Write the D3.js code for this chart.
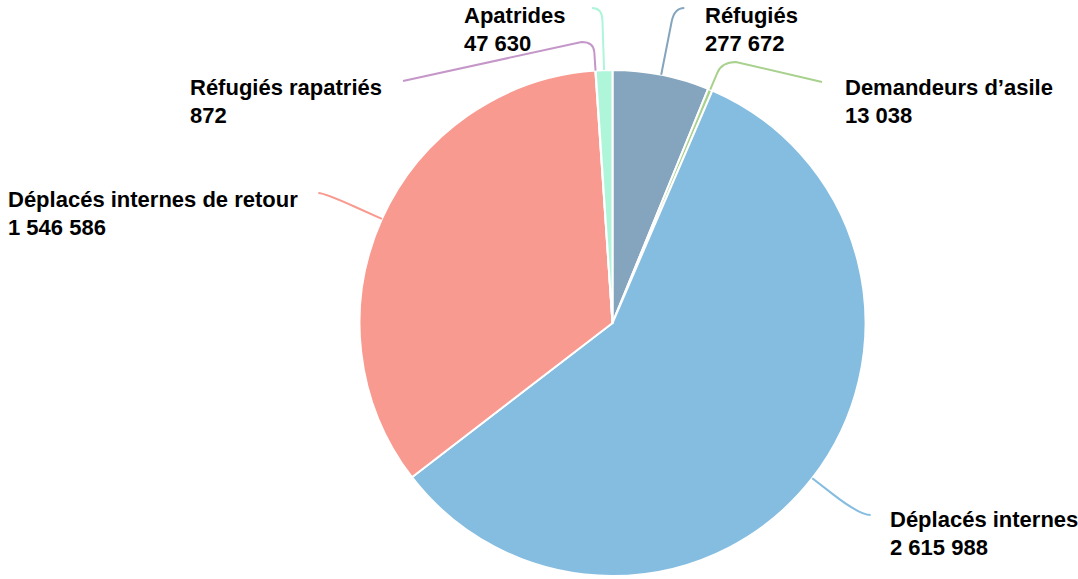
<!DOCTYPE html>
<html><head><meta charset="utf-8">
<script src="https://cdn.jsdelivr.net/npm/d3@7"></script>
<style>html,body{margin:0;padding:0;background:#fff;}svg{display:block;}</style>
</head><body>
<svg id="chart" width="1078" height="579"></svg>
<script>
const categories = ["Réfugiés","Demandeurs d’asile","Déplacés internes","Déplacés internes de retour","Réfugiés rapatriés","Apatrides"];
const values = [277672, 13038, 2615988, 1546586, 872, 47630];
const colors = ["#84a5bd","#a9d18e","#85bde0","#f99a90","#c597c9","#aef5da"];

// label layout (presentation only)
const labelLayout = [
  {lx:705, ly:23, ey:8,  dir:1,  back:14, fwd:10, extra:null},
  {lx:845, ly:95, ey:62, dir:1,  back:12, fwd:14, extra:[822,82]},
  {lx:890, ly:527,ey:515,dir:1,  back:34, fwd:11, extra:null},
  {lx:8,   ly:207,ey:193,dir:-1, back:34, fwd:6,  extra:null},
  {lx:190, ly:95, ey:42, dir:-1, back:10, fwd:12, extra:[403,81]},
  {lx:464, ly:23, ey:8,  dir:-1, back:12, fwd:10, extra:null}
];

const fmt = d3.formatLocale({decimal:",", thousands:" ", grouping:[3], currency:["","€"]}).format(",d");
const svg = d3.select("#chart");
const cx = 612.5, cy = 323, R = 253;
const g = svg.append("g").attr("transform",`translate(${cx},${cy})`);

const data = categories.map((c,i)=>({name:c, value:values[i], color:colors[i], lay:labelLayout[i]}));
const pie = d3.pie().value(d=>d.value).sort(null);
const arcs = pie(data);
const arc = d3.arc().innerRadius(0).outerRadius(R);

g.selectAll("path.slice").data(arcs).join("path")
  .attr("class","slice")
  .attr("d",arc)
  .attr("fill",d=>d.data.color)
  .attr("stroke","#fff").attr("stroke-width",2).attr("stroke-linejoin","round");

// leader lines
arcs.forEach(a=>{
  const L = a.data.lay;
  const mid = (a.startAngle+a.endAngle)/2;
  const ux = Math.sin(mid), uy = -Math.cos(mid);
  const sx = ux*R, sy = uy*R;
  const ey = L.ey - cy;
  const rc = ey/uy;
  const Cx = ux*rc, Cy = ey;
  const Kx = Cx - ux*L.back, Ky = Cy - uy*L.back;
  const Ex = Cx + L.dir*L.fwd, Ey = Cy;
  const p = d3.path();
  p.moveTo(sx,sy);
  p.lineTo(Kx,Ky);
  p.quadraticCurveTo(Cx,Cy,Ex,Ey);
  if (L.extra) p.lineTo(L.extra[0]-cx, L.extra[1]-cy);
  g.append("path").attr("d",p.toString())
    .attr("fill","none").attr("stroke",a.data.color).attr("stroke-width",2)
    .attr("stroke-linejoin","round");
});

// labels
const lbl = svg.append("g").attr("font-family","'Liberation Sans', Arial, sans-serif")
  .attr("font-weight","bold").attr("font-size","22px").attr("fill","#000");
data.forEach(d=>{
  const t = lbl.append("text").attr("x",d.lay.lx).attr("y",d.lay.ly);
  t.append("tspan").attr("x",d.lay.lx).text(d.name);
  t.append("tspan").attr("x",d.lay.lx).attr("dy",27.5).text(fmt(d.value));
});
</script>
</body></html>
